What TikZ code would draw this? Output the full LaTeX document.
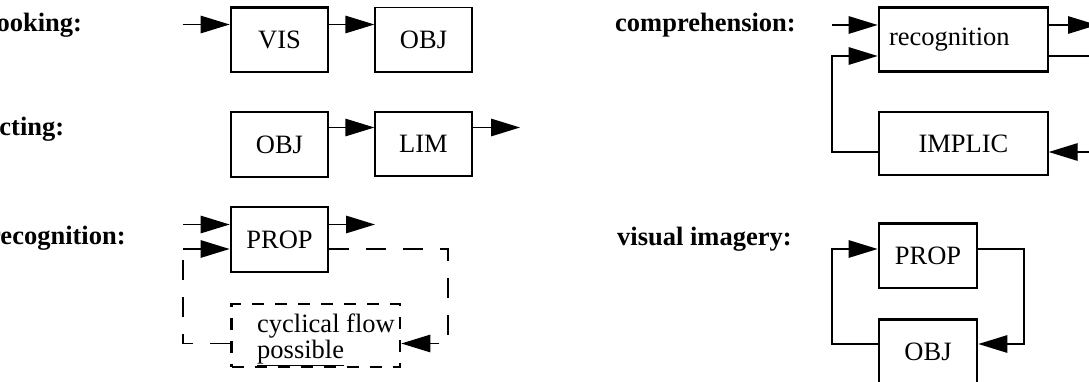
\documentclass[tikz,border=0pt]{standalone}
\usepackage{fontspec}
\setmainfont{Liberation Serif}
\usetikzlibrary{arrows.meta}
\begin{document}
\begin{tikzpicture}[x=1pt,y=-1pt,
  every node/.style={inner sep=0pt, font=\fontsize{26.5}{23}\selectfont},
  box/.style={draw, line width=1.3pt},
  heavy/.style={draw, line width=2.7pt},
  dashbox/.style={heavy, dash pattern=on 12pt off 11pt},
  lbl/.style={anchor=base west, font=\fontsize{26.5}{23}\selectfont\bfseries},
  wire/.style={line width=1.3pt},
  arr/.style={wire, -{Triangle[length=29pt,width=17.5pt]}},
  loopdash/.style={wire, dash pattern=on 20pt off 17pt}]
\useasboundingbox (0,0) rectangle (1089,382);
\clip (0,0) rectangle (1089,382);

% ---- looking
\node[lbl] (lookLbl) at (-11,31.5) {looking:};
\node[heavy, minimum width=97pt, minimum height=64.5pt] (lookVIS) at (279.5,39.75) {VIS};
\node[box, minimum width=97pt, minimum height=64.5pt] (lookOBJ) at (423.5,39.75) {OBJ};
\coordinate (lookIn) at (182.5,24.5);
\draw[arr] (lookIn) -- (lookIn -| lookVIS.west);
\draw[arr] (lookVIS.east |- lookIn) -- (lookOBJ.west |- lookIn);

% ---- acting
\node[lbl] (actLbl) at (-14,136) {acting:};
\node[heavy, minimum width=97pt, minimum height=65pt] (actOBJ) at (279.5,144.5) {OBJ};
\node[box, minimum width=97pt, minimum height=64pt] (actLIM) at (423.5,144) {LIM};
\coordinate (actOut) at (520,127.5);
\draw[arr] (actOBJ.east |- actOut) -- (actLIM.west |- actOut);
\draw[arr] (actLIM.east |- actOut) -- (actOut);

% ---- recognition
\node[lbl] (recLbl) at (-11,244.5) {recognition:};
\node[heavy, minimum width=97pt, minimum height=65pt] (recPROP) at (279.5,239.5) {PROP};
\node[dashbox, minimum width=168.5pt, minimum height=63pt] (cyc) at (315.75,335.5) {};
\node[anchor=base west, align=left] (cycText) at (257,358) {cyclical flow\\\underline{possible}};
\coordinate (recIn) at (183,224.5);
\coordinate (recLoop) at (183,249);
\coordinate (recOut) at (375,224.5);
\coordinate (recTR) at (448,249);
\coordinate (recBR) at (448,343.5);
\draw[arr] (recIn) -- (recIn -| recPROP.west);
\draw[arr] (recPROP.east |- recIn) -- (recOut);
\draw[arr] (recLoop) -- (recLoop -| recPROP.west);
\draw[loopdash, -{Triangle[length=29pt,width=17.5pt]}]
  (recPROP.east |- recTR) -- (recTR) -- (recBR) -- (cyc.east |- recBR);
\draw[loopdash] (cyc.west |- recBR) -| (recLoop);

% ---- comprehension
\node[lbl] (compLbl) at (615,32) {comprehension:};
\node[heavy, minimum width=169pt, minimum height=64pt, text width=149pt, align=left]
  (compRec) at (963.5,39.5) {recognition};
\node[box, minimum width=169pt, minimum height=63pt] (compImp) at (963.5,143.5) {IMPLIC};
\coordinate (compIn) at (832,25);
\coordinate (compLoop) at (832,56);
\coordinate (compOut) at (1097,25);
\coordinate (compTR) at (1110,56);
\coordinate (compBR) at (1110,152);
\draw[arr] (compIn) -- (compIn -| compRec.west);
\draw[arr] (compRec.east |- compIn) -- (compOut);
\draw[arr] (compImp.west |- compBR) -| (compLoop) -- (compLoop -| compRec.west);
\draw[arr] (compRec.east |- compTR) -- (compTR) -- (compBR) -- (compImp.east |- compBR);

% ---- visual imagery
\node[lbl] (visLbl) at (617,245) {visual imagery:};
\node[heavy, minimum width=98pt, minimum height=64.5pt] (visPROP) at (928,255.75) {PROP};
\node[heavy, minimum width=98pt, minimum height=64.5pt] (visOBJ) at (928,351.75) {OBJ};
\coordinate (visTL) at (832,249);
\coordinate (visBL) at (832,344);
\coordinate (visTR) at (1024,249);
\coordinate (visBR) at (1024,344);
\draw[arr] (visOBJ.west |- visBL) -- (visBL) -- (visTL) -- (visTL -| visPROP.west);
\draw[arr] (visPROP.east |- visTR) -- (visTR) -- (visBR) -- (visOBJ.east |- visBR);
\end{tikzpicture}
\end{document}
